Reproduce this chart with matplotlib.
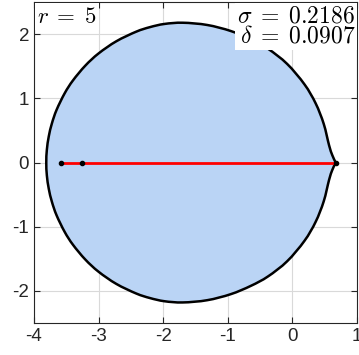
import matplotlib
matplotlib.use("Agg")
import matplotlib.pyplot as plt
from matplotlib.path import Path
from matplotlib.patches import PathPatch

# Boundary of the region (upper half, left to right)
upper_x = [-3.810, -3.801, -3.771, -3.723, -3.651, -3.525, -3.397, -3.206, -3.001, -2.726, -2.417, -2.207, -1.981,
           -1.696, -1.319, -0.954, -0.642, -0.378, -0.082, 0.187, 0.360, 0.485, 0.568, 0.617, 0.670]
upper_y = [0.000, 0.200, 0.410, 0.610, 0.820, 1.080, 1.280, 1.510, 1.700, 1.890, 2.040, 2.110, 2.160,
           2.179, 2.144, 2.050, 1.920, 1.774, 1.538, 1.219, 0.923, 0.604, 0.269, 0.117, 0.000]

# Red segment on the real axis and black dots
seg_x = [-3.58, 0.67]
seg_y = [0.0, 0.0]
dot_x = [-3.58, -3.25, 0.67]
dot_y = [0.0, 0.0, 0.0]

r_label = r"$r\;=\;5$"
sigma_label = r"$\sigma\;=\;0.2186$"
delta_label = r"$\delta\;=\;0.0907$"

xticks = [-4, -3, -2, -1, 0, 1]
yticks = [-2, -1, 0, 1, 2]

plt.rcParams['font.family'] = ['Liberation Sans', 'DejaVu Sans']
plt.rcParams['mathtext.fontset'] = 'cm'
plt.rcParams['axes.unicode_minus'] = False

fig = plt.figure(figsize=(3.59, 3.55), dpi=100)
ax = fig.add_axes([0.0947, 0.090, 0.8997, 0.904])

# closed loop: cusp -> upper (right to left) -> lower (left to right) -> cusp
px = upper_x[::-1] + upper_x[1:]
py = upper_y[::-1] + [-v for v in upper_y[1:]]
pts = list(zip(px, py))
n = len(pts) - 1
tang = []
for i in range(n + 1):
    if i == 0:
        t = (pts[1][0] - pts[0][0], pts[1][1] - pts[0][1])
    elif i == n:
        t = (pts[n][0] - pts[n - 1][0], pts[n][1] - pts[n - 1][1])
    else:
        t = ((pts[i + 1][0] - pts[i - 1][0]) / 2, (pts[i + 1][1] - pts[i - 1][1]) / 2)
    tang.append(t)
verts = [pts[0]]
codes = [Path.MOVETO]
for i in range(n):
    p0, p1 = pts[i], pts[i + 1]
    t0, t1 = tang[i], tang[i + 1]
    verts += [(p0[0] + t0[0] / 3, p0[1] + t0[1] / 3), (p1[0] - t1[0] / 3, p1[1] - t1[1] / 3), p1]
    codes += [Path.CURVE4] * 3
patch = PathPatch(Path(verts, codes), facecolor=(0.73, 0.83, 0.96), edgecolor='black', lw=1.8, zorder=2)
ax.add_patch(patch)
ax.plot(seg_x, seg_y, color='red', lw=2.0, zorder=3)
ax.plot(dot_x, dot_y, 'o', color='black', ms=3, zorder=4)

ax.set_xlim(-4, 1)
ax.set_ylim(-2.5, 2.5)
ax.set_xticks(xticks)
ax.set_yticks(yticks)
ax.tick_params(direction='in', top=True, right=True, labelsize=13.5, colors=(0.15, 0.15, 0.15), length=4)
ax.grid(True, color=(0.85, 0.85, 0.85), lw=0.8)
ax.set_axisbelow(True)
for s in ax.spines.values():
    s.set_color((0.15, 0.15, 0.15))
    s.set_linewidth(0.8)

ax.text(0.010, 0.990, r_label, transform=ax.transAxes, ha='left', va='top', fontsize=16.5,
        bbox=dict(facecolor='white', edgecolor='none', pad=1.5), zorder=5)
ax.text(0.995, 0.990, sigma_label + "\n" + delta_label, transform=ax.transAxes, ha='right', va='top',
        fontsize=17, linespacing=0.92, multialignment='right',
        bbox=dict(facecolor='white', edgecolor='none', pad=1.5), zorder=5)

fig.savefig("out.png", dpi=100)
